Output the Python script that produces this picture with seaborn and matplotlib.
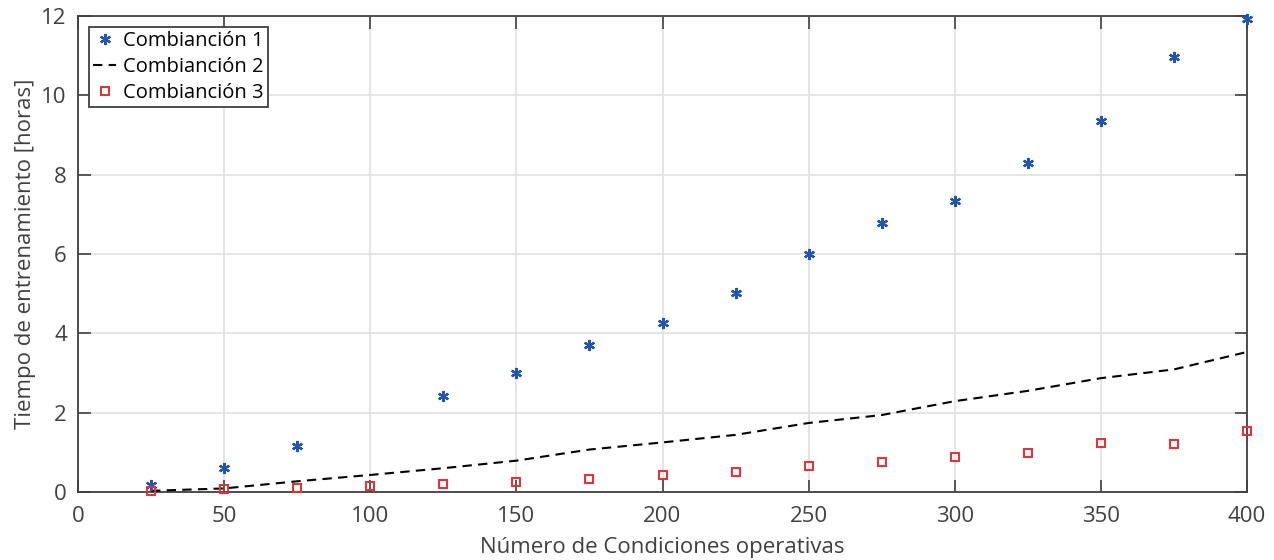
import numpy as np
import pandas as pd
import matplotlib
matplotlib.use("Agg")
import matplotlib.pyplot as plt
import seaborn as sns

# Data
condiciones = [25, 50, 75, 100, 125, 150, 175, 200, 225, 250, 275, 300, 325, 350, 375, 400]
comb1 = [0.17, 0.61, 1.15, np.nan, 2.41, 3.01, 3.70, 4.26, 5.01, 6.00, 6.78, 7.34, 8.29, 9.35, 10.97, 11.93]
comb2 = [0.03, 0.09, 0.27, 0.43, 0.60, 0.79, 1.07, 1.25, 1.44, 1.74, 1.94, 2.29, 2.55, 2.87, 3.09, 3.53]
comb3 = [0.03, 0.08, 0.10, 0.16, 0.21, 0.24, 0.32, 0.43, 0.50, 0.66, 0.76, 0.87, 0.99, 1.24, 1.20, 1.55]
labels = ["Combianción 1", "Combianción 2", "Combianción 3"]
xlabel = "Número de Condiciones operativas"
ylabel = "Tiempo de entrenamiento [horas]"
xticks = [0, 50, 100, 150, 200, 250, 300, 350, 400]
yticks = [0, 2, 4, 6, 8, 10, 12]

sns.set_style("whitegrid")
plt.rcParams['font.family'] = ['Open Sans', 'DejaVu Sans']

txt = '#404040'
blue = '#2156B0'
red = '#EE2B30'

fig = plt.figure(figsize=(12.74, 5.6), dpi=100)
ax = fig.add_axes([78/1274, 68/560, (1247-78)/1274, (492-16)/560])

df = pd.DataFrame({"x": condiciones, "c1": comb1, "c2": comb2, "c3": comb3})

sns.lineplot(data=df.dropna(subset=["c1"]), x="x", y="c1", ax=ax, linestyle='', marker=(6, 2, 0),
             markersize=8, markeredgewidth=1.6, color=blue, markeredgecolor=blue, label=labels[0],
             clip_on=False, zorder=5)
sns.lineplot(data=df, x="x", y="c2", ax=ax, color='black', linewidth=1.5, dashes=(4.5, 3),
             label=labels[1], zorder=4)
sns.lineplot(data=df, x="x", y="c3", ax=ax, linestyle='', marker='s', markersize=6,
             markerfacecolor='none', markeredgecolor=red, markeredgewidth=1.4, color=red,
             label=labels[2], clip_on=False, zorder=5)

ax.set_xlim(0, 400)
ax.set_ylim(0, 12)
ax.set_xticks(xticks)
ax.set_yticks(yticks)
ax.set_xlabel(xlabel, fontsize=16, color=txt, labelpad=7)
ax.set_ylabel(ylabel, fontsize=16, color=txt, labelpad=4)
ax.tick_params(axis='both', which='both', direction='in', length=9, width=1.2, colors=txt,
               labelsize=16, top=True, right=True, bottom=True, left=True)
ax.tick_params(axis='x', pad=10)
ax.tick_params(axis='y', pad=8)
ax.grid(True, color='#e0e0e0', linewidth=1.2)
for s in ax.spines.values():
    s.set_visible(True)
    s.set_color(txt)
    s.set_linewidth(1.3)

leg = ax.legend(loc='upper left', fontsize=14.5, frameon=True, fancybox=False, framealpha=1,
                edgecolor=txt, borderpad=0.2, labelspacing=0.3, handlelength=1.15,
                handletextpad=0.35, borderaxespad=0.55)
leg.get_frame().set_linewidth(1.3)
leg.set_zorder(10)
for t in leg.get_texts():
    t.set_color('black')

fig.savefig("out.png", dpi=100)
